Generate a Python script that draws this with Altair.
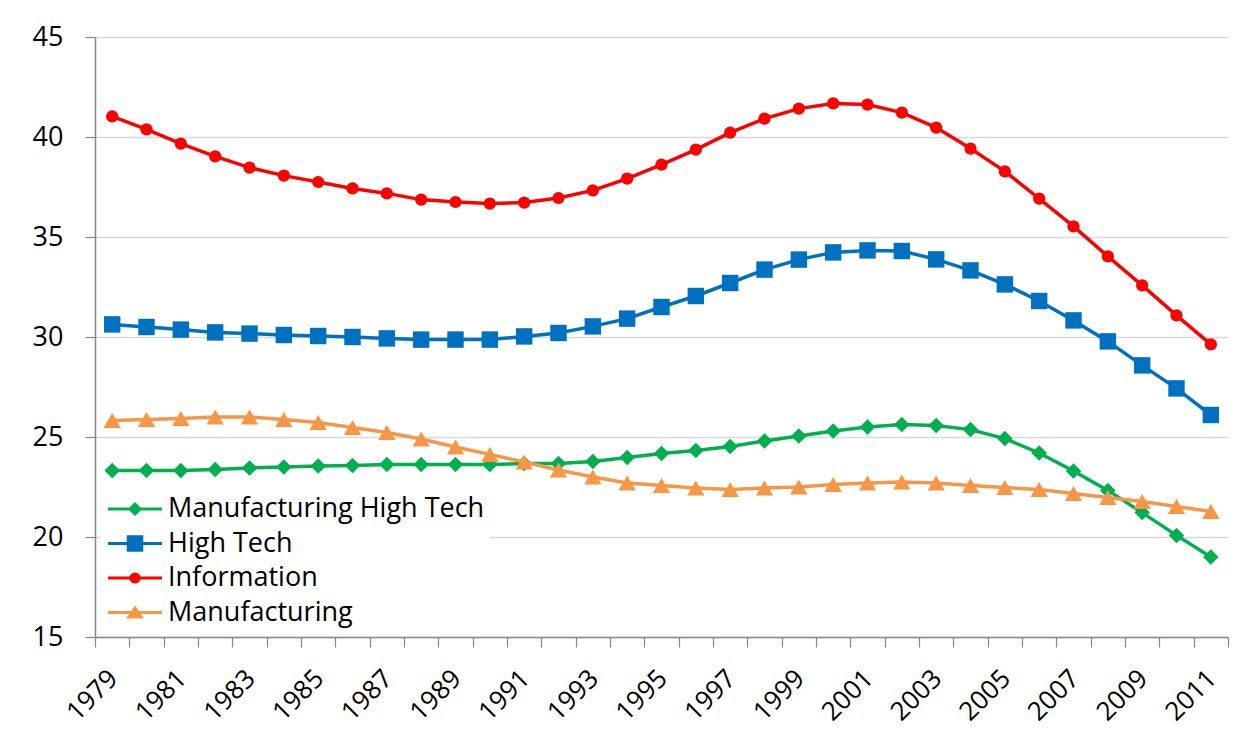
import math
import altair as alt
import pandas as pd

years = [str(y) for y in range(1979, 2012)]

series_names = ["Manufacturing High Tech", "High Tech", "Information", "Manufacturing"]

mfg_high_tech = [23.33, 23.33, 23.33, 23.38, 23.45, 23.50, 23.55, 23.58, 23.62, 23.63,
                 23.63, 23.63, 23.67, 23.68, 23.78, 23.97, 24.17, 24.33, 24.53, 24.80,
                 25.05, 25.30, 25.50, 25.63, 25.57, 25.37, 24.92, 24.20, 23.30, 22.33,
                 21.22, 20.08, 19.00]

high_tech = [30.63, 30.50, 30.37, 30.23, 30.17, 30.10, 30.05, 30.00, 29.93, 29.87,
             29.87, 29.87, 30.03, 30.20, 30.53, 30.92, 31.50, 32.05, 32.70, 33.37,
             33.87, 34.23, 34.33, 34.30, 33.88, 33.33, 32.63, 31.80, 30.83, 29.78,
             28.58, 27.43, 26.10]

information = [41.03, 40.38, 39.67, 39.03, 38.47, 38.07, 37.75, 37.43, 37.18, 36.87,
               36.75, 36.67, 36.72, 36.95, 37.33, 37.92, 38.62, 39.37, 40.22, 40.92,
               41.42, 41.68, 41.62, 41.22, 40.47, 39.42, 38.28, 36.92, 35.53, 34.03,
               32.58, 31.08, 29.63]

manufacturing = [25.83, 25.88, 25.93, 26.00, 26.00, 25.87, 25.73, 25.48, 25.22, 24.90,
                 24.50, 24.13, 23.75, 23.35, 23.00, 22.70, 22.57, 22.45, 22.38, 22.45,
                 22.50, 22.62, 22.70, 22.75, 22.70, 22.58, 22.47, 22.37, 22.17, 21.97,
                 21.78, 21.53, 21.28]

y_ticks = [15, 20, 25, 30, 35, 40, 45]

colors = ["#00B050", "#0070C0", "#FF0000", "#F79646"]
shapes = ["diamond", "square", "circle", "triangle-up"]
sizes = [240, 270, 150, 300]

# legend glyphs: a short line segment with the series marker (all filled, clockwise)
LINE = "M-1.8,-0.1L1.8,-0.1L1.8,0.1L-1.8,0.1Z"


def _circle(r, n=20):
    pts = [(r * math.cos(2 * math.pi * i / n), r * math.sin(2 * math.pi * i / n)) for i in range(n)]
    return "M" + "L".join(f"{px:.3f},{py:.3f}" for px, py in pts) + "Z"


legend_shapes = [
    LINE + "M0,-0.47L0.47,0L0,0.47L-0.47,0Z",
    LINE + "M-0.55,-0.55L0.55,-0.55L0.55,0.55L-0.55,0.55Z",
    LINE + _circle(0.37),
    LINE + "M0,-0.47L0.6,0.4L-0.6,0.4Z",
]

rows = []
for name, vals in zip(series_names, [mfg_high_tech, high_tech, information, manufacturing]):
    for yr, v in zip(years, vals):
        rows.append({"year": yr, "series": name, "value": v})
df = pd.DataFrame(rows)

FONT = "Open Sans"

x_enc = alt.X(
    "year:O",
    sort=years,
    scale=alt.Scale(paddingInner=0, paddingOuter=0),
    axis=alt.Axis(
        title=None,
        labelAngle=-45,
        labelAlign="right",
        labelBaseline="middle",
        labelFont=FONT,
        labelFontSize=26,
        labelColor="#000000",
        labelPadding=27,
        labelOffset=1,
        labelExpr="(toNumber(datum.value) - 1979) % 2 == 0 ? datum.value : ''",
        labelOverlap=False,
        tickBand="extent",
        tickSize=10,
        tickColor="#878787",
        tickWidth=1.2,
        domainColor="#878787",
        domainWidth=1.5,
        grid=False,
    ),
)

y_enc = alt.Y(
    "value:Q",
    scale=alt.Scale(domain=[15, 45], nice=False, zero=False),
    axis=alt.Axis(
        title=None,
        values=y_ticks,
        labelFont=FONT,
        labelFontSize=27,
        labelColor="#000000",
        labelPadding=22,
        tickSize=10,
        tickColor="#878787",
        tickWidth=1.2,
        domainColor="#878787",
        domainWidth=1.5,
        grid=True,
        gridColor="#D9D9D9",
        gridWidth=1.5,
    ),
)

base = alt.Chart(df)

series_layers = []
for name, col, shp, sz in zip(series_names, colors, shapes, sizes):
    sub = base.transform_filter(alt.datum.series == name)
    series_layers.append(sub.mark_line(strokeWidth=3.5, color=col).encode(x=x_enc, y=y_enc))
    series_layers.append(
        sub.mark_point(filled=True, opacity=1, shape=shp, size=sz, color=col).encode(x=x_enc, y=y_enc)
    )

legend_def = alt.Legend(
    title=None,
    orient="none",
    legendX=5,
    legendY=452,
    fillColor="white",
    padding=5,
    symbolSize=900,
    symbolStrokeWidth=0,
    symbolOpacity=1,
    symbolOffset=15,
    labelOffset=18,
    rowPadding=6.5,
    labelFont=FONT,
    labelFontSize=27,
    labelColor="#000000",
    labelLimit=600,
)

legend_layer = base.mark_point(filled=True, opacity=0).encode(
    x=x_enc,
    y=y_enc,
    color=alt.Color("series:N", scale=alt.Scale(domain=series_names, range=colors), legend=legend_def),
    shape=alt.Shape("series:N", scale=alt.Scale(domain=series_names, range=legend_shapes), legend=legend_def),
)

chart = (
    alt.layer(*series_layers, legend_layer)
    .properties(
        width=1133,
        height=600,
        autosize=alt.AutoSizeParams(type="none"),
        padding={"left": 87, "top": 29, "right": 16, "bottom": 100},
        background="white",
    )
    .configure_view(stroke=None)
)

chart.save("out.html", embed_options={"renderer": "svg", "actions": False})
